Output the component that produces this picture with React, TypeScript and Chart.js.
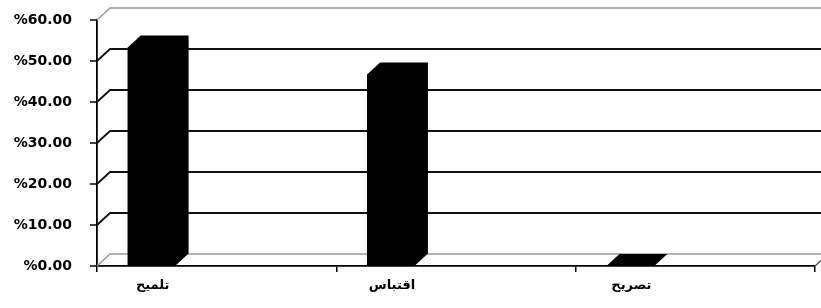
import React, { useEffect, useRef } from 'react';
import { Chart, registerables } from 'chart.js';

Chart.register(...registerables);

const categories = ['تلميح', 'اقتباس', 'تصريح'];
const values = [53.3, 46.7, 0];
const yMin = 0;
const yMax = 60;
const yStep = 10;

const DX = 13;
const DY = 12;
const SHIFT = -65;
const Y_TICK_LEN = 7;

const threeD = {
  id: 'threeD',
  afterDatasetsUpdate(chart: any) {
    const meta = chart.getDatasetMeta(0);
    meta.data.forEach((el: any) => {
      el.x = el.x + SHIFT;
    });
  },
  beforeDatasetsDraw(chart: any) {
    const { ctx, chartArea, scales } = chart;
    const ys = scales.y;
    const W = chart.width;
    ctx.save();
    ys.ticks.forEach((t: any) => {
      const y = ys.getPixelForValue(t.value);
      const isEdge = t.value === yMax || t.value === yMin;
      ctx.strokeStyle = isEdge ? '#9a9a9a' : '#111';
      ctx.lineWidth = isEdge ? 1.5 : 1.8;
      ctx.beginPath();
      ctx.moveTo(chartArea.left, y);
      ctx.lineTo(chartArea.left + DX, y - DY);
      ctx.lineTo(W + DX, y - DY);
      ctx.stroke();
      // short tick mark on the axis
      ctx.strokeStyle = '#000';
      ctx.lineWidth = 1.5;
      ctx.beginPath();
      ctx.moveTo(chartArea.left - Y_TICK_LEN, y);
      ctx.lineTo(chartArea.left, y);
      ctx.stroke();
    });
    ctx.strokeStyle = '#444';
    ctx.lineWidth = 1.2;
    ctx.beginPath();
    ctx.moveTo(chartArea.right, chartArea.bottom);
    ctx.lineTo(chartArea.right + DX, chartArea.bottom - DY);
    ctx.stroke();
    ctx.restore();
  },
  afterDatasetsDraw(chart: any) {
    const { ctx } = chart;
    const meta = chart.getDatasetMeta(0);
    ctx.save();
    ctx.fillStyle = '#000';
    meta.data.forEach((el: any) => {
      const L = el.x - el.width / 2;
      const R = el.x + el.width / 2;
      const top = el.y;
      const base = el.base;
      ctx.beginPath();
      ctx.moveTo(L, base);
      ctx.lineTo(L, top);
      ctx.lineTo(L + DX, top - DY);
      ctx.lineTo(R + DX, top - DY);
      ctx.lineTo(R + DX, base - DY);
      ctx.lineTo(R, base);
      ctx.closePath();
      ctx.fill();
    });
    ctx.restore();
  },
};

export default function App() {
  const ref = useRef<HTMLCanvasElement | null>(null);
  useEffect(() => {
    document.body.style.margin = '0';
    const canvas = ref.current;
    if (!canvas) return;
    const chart = new Chart(canvas, {
      type: 'bar',
      data: {
        labels: categories,
        datasets: [
          {
            data: values,
            backgroundColor: '#000',
            borderWidth: 0,
            barPercentage: 0.2,
            categoryPercentage: 1,
          },
        ],
      },
      options: {
        responsive: false,
        animation: false,
        devicePixelRatio: 1,
        events: [],
        layout: { padding: { top: 20, right: 6, left: 0, bottom: 0 } },
        plugins: { legend: { display: false }, tooltip: { enabled: false } },
        scales: {
          x: {
            offset: true,
            grid: {
              offset: true,
              drawOnChartArea: false,
              drawTicks: true,
              tickLength: 6,
              color: '#000',
              lineWidth: 1.5,
            },
            border: { display: true, color: '#000', width: 1.8 },
            ticks: {
              labelOffset: -64,
              padding: 6,
              color: '#000',
              font: { family: 'DejaVu Sans', size: 13, weight: 'bold' },
              maxRotation: 0,
            },
            afterFit: (s: any) => {
              s.height = 42;
            },
          },
          y: {
            min: yMin,
            max: yMax,
            ticks: {
              stepSize: yStep,
              padding: 2,
              color: '#000',
              font: { family: 'DejaVu Sans', size: 14, weight: 'bold' },
              callback: (v: any) => '%' + Number(v).toFixed(2),
            },
            grid: {
              drawOnChartArea: false,
              drawTicks: true,
              tickLength: 23,
              tickColor: 'rgba(0,0,0,0)',
            },
            border: { display: true, color: '#000', width: 1.8 },
            afterFit: (s: any) => {
              s.width = 97;
            },
          },
        },
      },
      plugins: [threeD],
    });
    return () => chart.destroy();
  }, []);
  return (
    <div style={{ width: 821, height: 308, background: '#fff' }}>
      <canvas ref={ref} width={821} height={308} />
    </div>
  );
}
